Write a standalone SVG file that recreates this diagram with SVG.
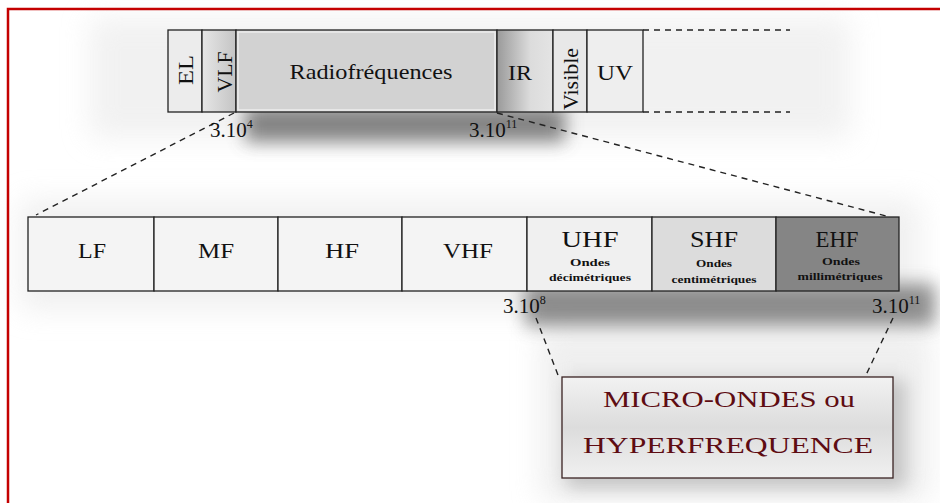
<svg xmlns="http://www.w3.org/2000/svg" width="940" height="503" viewBox="0 0 940 503">
<style>
.cell{stroke:#222;stroke-width:1.3}
.t{font-family:"Liberation Serif","DejaVu Serif",serif;fill:#111;text-anchor:middle}
.s{font-family:"Liberation Serif","DejaVu Serif",serif;fill:#111;text-anchor:middle;font-size:11px;font-weight:bold}
.dash{stroke:#222;stroke-width:1.4;stroke-dasharray:6,5;fill:none}
.big{font-family:"Liberation Serif","DejaVu Serif",serif;fill:#5e0c12;text-anchor:middle;font-size:24px}
</style>
<defs>
<filter id="blur" x="-30%" y="-60%" width="160%" height="220%"><feGaussianBlur stdDeviation="9"/></filter>
<filter id="blur2" x="-30%" y="-60%" width="160%" height="220%"><feGaussianBlur stdDeviation="14"/></filter>
<linearGradient id="boxg" x1="0" y1="0" x2="0" y2="1"><stop offset="0" stop-color="#f2f2f2"/><stop offset="0.5" stop-color="#dcdcdc"/><stop offset="1" stop-color="#f0f0f0"/></linearGradient>
<linearGradient id="irg" x1="0" y1="0" x2="1" y2="0"><stop offset="0" stop-color="#9a9a9a"/><stop offset="0.6" stop-color="#dcdcdc"/><stop offset="1" stop-color="#e4e4e4"/></linearGradient>
<linearGradient id="vlfg" x1="0" y1="0" x2="1" y2="0"><stop offset="0" stop-color="#e6e6e6"/><stop offset="1" stop-color="#c4c4c4"/></linearGradient>
</defs>
<rect width="940" height="503" fill="#ffffff"/>
<!-- soft background shading -->
<rect x="90" y="18" width="760" height="120" fill="#e8e8e8" opacity="0.6" filter="url(#blur2)"/>
<rect x="20" y="200" width="900" height="110" fill="#e6e6e6" opacity="0.6" filter="url(#blur2)"/>
<rect x="540" y="330" width="390" height="170" fill="#e4e4e4" opacity="0.6" filter="url(#blur2)"/>
<!-- shadows -->
<rect x="245" y="106" width="320" height="36" fill="#555" opacity="0.7" filter="url(#blur)"/>
<rect x="525" y="284" width="410" height="42" fill="#555" opacity="0.65" filter="url(#blur)"/>
<rect x="566" y="380" width="340" height="108" fill="#999" opacity="0.5" filter="url(#blur)"/>
<!-- red frame -->
<rect x="8" y="9" width="960" height="520" fill="none" stroke="#c40000" stroke-width="2.5"/>

<g id="connectors">
<line class="dash" x1="643" y1="30" x2="790" y2="30"/>
<line class="dash" x1="643" y1="112" x2="790" y2="112"/>
<line class="dash" x1="234" y1="113" x2="36" y2="215"/>
<line class="dash" x1="497" y1="113" x2="890" y2="217"/>
<line class="dash" x1="536" y1="318" x2="558" y2="375"/>
<line class="dash" x1="893" y1="318" x2="866" y2="375"/>
</g>

<g id="top-bar">
<g id="n-EL"><rect class="cell" x="168" y="30" width="34" height="82" fill="#ececec"/>
<text class="t" font-size="22" textLength="30" lengthAdjust="spacingAndGlyphs" transform="translate(193,70) rotate(-90)">EL</text></g>
<g id="n-VLF"><rect class="cell" x="202" y="30" width="34" height="82" fill="url(#vlfg)"/>
<text class="t" font-size="20" textLength="41" lengthAdjust="spacingAndGlyphs" transform="translate(232,72) rotate(-90)">VLF</text></g>
<g id="n-Radio"><rect class="cell" x="236" y="30" width="261" height="82" fill="#d2d2d2"/>
<rect x="238" y="32" width="257" height="78" fill="none" stroke="#ececec" stroke-width="1.5"/>
<text class="t" font-size="22" x="371" y="79" textLength="163" lengthAdjust="spacingAndGlyphs">Radiofréquences</text></g>
<g id="n-IR"><rect class="cell" x="497" y="30" width="56" height="82" fill="url(#irg)"/>
<text class="t" font-size="22" x="520" y="80" textLength="24" lengthAdjust="spacingAndGlyphs">IR</text></g>
<g id="n-Visible"><rect class="cell" x="553" y="30" width="34" height="82" fill="#e8e8e8"/>
<text class="t" font-size="21" textLength="62" lengthAdjust="spacingAndGlyphs" transform="translate(578,79) rotate(-90)">Visible</text></g>
<g id="n-UV"><rect class="cell" x="587" y="30" width="56" height="82" fill="#eeeeee"/>
<text class="t" font-size="22" x="615" y="80" textLength="36" lengthAdjust="spacingAndGlyphs">UV</text></g>
</g>

<g id="lbl-top">
<text class="t" font-size="21" x="210" y="137" style="text-anchor:start">3.10<tspan font-size="12" dy="-9">4</tspan></text>
<text class="t" font-size="21" x="469" y="137" style="text-anchor:start">3.10<tspan font-size="12" dy="-9">11</tspan></text>
</g>

<g id="bottom-bar">
<g id="n-LF"><rect class="cell" x="28" y="217" width="126" height="74" fill="#f4f4f4"/>
<text class="t" font-size="22" x="92" y="258" textLength="28" lengthAdjust="spacingAndGlyphs">LF</text></g>
<g id="n-MF"><rect class="cell" x="154" y="217" width="124" height="74" fill="#f4f4f4"/>
<text class="t" font-size="22" x="216" y="258" textLength="36" lengthAdjust="spacingAndGlyphs">MF</text></g>
<g id="n-HF"><rect class="cell" x="278" y="217" width="124" height="74" fill="#f4f4f4"/>
<text class="t" font-size="22" x="342" y="258" textLength="34" lengthAdjust="spacingAndGlyphs">HF</text></g>
<g id="n-VHF"><rect class="cell" x="402" y="217" width="125" height="74" fill="#f4f4f4"/>
<text class="t" font-size="22" x="468" y="258" textLength="50" lengthAdjust="spacingAndGlyphs">VHF</text></g>
<g id="n-UHF"><rect class="cell" x="527" y="217" width="125" height="74" fill="#f0f0f0"/>
<text class="t" font-size="23" x="590" y="247" textLength="57" lengthAdjust="spacingAndGlyphs">UHF</text>
<text class="s" x="590" y="266" textLength="40" lengthAdjust="spacingAndGlyphs">Ondes</text>
<text class="s" x="590" y="281" textLength="82" lengthAdjust="spacingAndGlyphs">décimétriques</text></g>
<g id="n-SHF"><rect class="cell" x="652" y="217" width="124" height="74" fill="#dcdcdc"/>
<text class="t" font-size="23" x="714" y="247" textLength="48" lengthAdjust="spacingAndGlyphs">SHF</text>
<text class="s" x="714" y="267" textLength="36" lengthAdjust="spacingAndGlyphs">Ondes</text>
<text class="s" x="714" y="283" textLength="85" lengthAdjust="spacingAndGlyphs">centimétriques</text></g>
<g id="n-EHF"><rect class="cell" x="776" y="217" width="123" height="74" fill="#858585"/>
<text class="t" font-size="23" x="837" y="247" textLength="43" lengthAdjust="spacingAndGlyphs">EHF</text>
<text class="s" x="841" y="265" textLength="38" lengthAdjust="spacingAndGlyphs">Ondes</text>
<text class="s" x="840" y="280" textLength="85" lengthAdjust="spacingAndGlyphs">millimétriques</text></g>
</g>

<g id="lbl-bottom">
<text class="t" font-size="21" x="503" y="313" style="text-anchor:start">3.10<tspan font-size="12" dy="-9">8</tspan></text>
<text class="t" font-size="21" x="872" y="313" style="text-anchor:start">3.10<tspan font-size="12" dy="-9">11</tspan></text>
</g>

<g id="n-micro">
<rect x="562" y="377" width="331" height="101" fill="url(#boxg)" stroke="#3a2222" stroke-width="1.3"/>
<text class="big" x="729" y="407" textLength="252" lengthAdjust="spacingAndGlyphs">MICRO-ONDES ou</text>
<text class="big" x="728" y="453" textLength="290" lengthAdjust="spacingAndGlyphs">HYPERFREQUENCE</text>
</g>
</svg>
